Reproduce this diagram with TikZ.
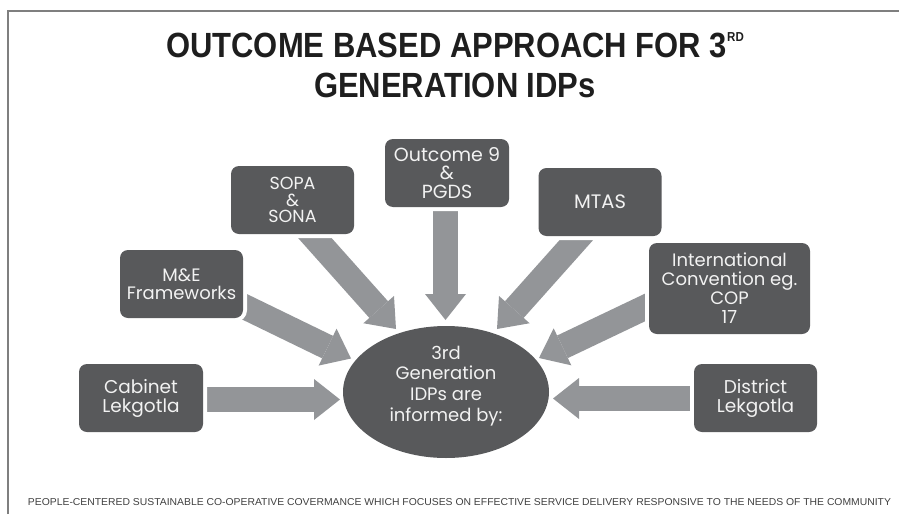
\documentclass[tikz,border=0pt]{standalone}
\usepackage{fontspec}
\usepackage{graphicx}
\setmainfont{Poppins}
\newfontfamily\titlefont{Liberation Sans}
\usetikzlibrary{arrows.meta,shapes.geometric,calc}
\pgfdeclarelayer{background}
\pgfsetlayers{background,main}
\definecolor{boxgray}{HTML}{58595B}
\definecolor{arrowgray}{HTML}{939598}
\definecolor{framegray}{HTML}{7F7F7F}
\definecolor{boxtext}{HTML}{F2F2F2}
\definecolor{titlecol}{HTML}{1E1E1E}
\definecolor{footcol}{HTML}{404040}
\tikzset{
  boxfont/.style 2 args={font=\fontsize{#1}{#2}\selectfont},
  infobox/.style={fill=boxgray, rounded corners=8pt, inner sep=0pt, align=center,
    text=boxtext, minimum width=123pt, minimum height=68pt,
    preaction={draw=white, line width=8pt}},
  hub/.style={ellipse, fill=boxgray, minimum width=206pt, minimum height=132pt, inner sep=0pt},
  hubtext/.style={align=center, text=boxtext, inner sep=0pt, font=\fontsize{18}{20.7}\selectfont},
  fatarrow/.style={draw=arrowgray, line width=25pt,
    -{Triangle[width=41pt,length=26pt,line width=0pt]}},
  frameline/.style={draw=framegray, line width=1.7pt},
  titletext/.style={anchor=base, text=titlecol, inner sep=0pt},
}
\begin{document}
\begin{tikzpicture}[x=1pt,y=-1pt]
\useasboundingbox (0,0) rectangle (899,514);
\draw[frameline] (8.2,514) -- (8.2,10.8) -- (899,10.8);

\node[titletext] (title1) at (455,57) {\titlefont\bfseries\fontsize{35}{40}\selectfont\scalebox{0.885}[1]{OUTCOME BASED APPROACH FOR 3\raisebox{15.5pt}{\fontsize{13}{13}\selectfont RD}}};
\node[titletext] (title2) at (455,97) {\titlefont\bfseries\fontsize{35}{40}\selectfont\scalebox{0.885}[1]{GENERATION IDPs}};

\node[anchor=base, text=footcol, inner sep=0pt] (foot) at (459.5,505) {\resizebox{863pt}{7pt}{\titlefont PEOPLE-CENTERED SUSTAINABLE CO-OPERATIVE COVERMANCE WHICH FOCUSES ON EFFECTIVE SERVICE DELIVERY RESPONSIVE TO THE NEEDS OF THE COMMUNITY}};

\node[infobox, boxfont={17.5}{16.5}] (sopa) at (292.5,200) {SOPA\\\&\\SONA};
\node[infobox, minimum width=124pt, boxfont={19}{18.5}] (outc) at (447,173) {Outcome 9\\\&\\PGDS};
\node[infobox, boxfont={19.5}{20}] (mtas) at (600,202) {MTAS};
\node[infobox, minimum width=161pt, minimum height=91pt, boxfont={18}{19}] (intl) at (729.5,288.5) {International\\Convention eg.\\COP\\17};
\node[infobox, boxfont={18}{18}] (me) at (181.5,284) {M\&E\\Frameworks};
\node[infobox, minimum width=124pt, boxfont={18.5}{19}] (cab) at (141,398) {Cabinet\\Lekgotla};
\node[infobox, boxfont={18.5}{19}] (dist) at (755.5,398) {District\\Lekgotla};
\node[hub] (ell) at (446,392) {};
\node[hubtext] (elltxt) at (446,386) {3rd\\Generation\\IDPs are\\informed by:};

\coordinate (sopaS) at ($(sopa.center)+(12.5,27)$);
\coordinate (sopaT) at ($(ell.center)+(-50,-63)$);
\coordinate (outcS) at ($(outc.center)+(-1.5,27)$);
\coordinate (outcT) at ($(ell.center)+(-0.5,-72)$);
\coordinate (mtasS) at ($(mtas.center)+(-14.5,27.8)$);
\coordinate (mtasT) at ($(ell.center)+(51,-63)$);
\coordinate (intlS) at ($(intl.center)+(-73,13.5)$);
\coordinate (intlT) at ($(ell.center)+(93,-34)$);
\coordinate (meS) at ($(me.center)+(52,17.4)$);
\coordinate (meT) at ($(ell.center)+(-95,-33.5)$);
\coordinate (cabS) at ($(cab.center)+(54,1.5)$);
\coordinate (cabT) at ($(ell.center)+(-106,7.5)$);
\coordinate (distS) at ($(dist.center)+(-55.5,0.5)$);
\coordinate (distT) at ($(ell.center)+(107,6.5)$);

\begin{pgfonlayer}{background}
\draw[fatarrow] (sopaS) -- (sopaT);
\draw[fatarrow] (outcS) -- (outcT);
\draw[fatarrow] (mtasS) -- (mtasT);
\draw[fatarrow] (intlS) -- (intlT);
\draw[fatarrow] (meS) -- (meT);
\draw[fatarrow] (cabS) -- (cabT);
\draw[fatarrow] (distS) -- (distT);
\end{pgfonlayer}
\end{tikzpicture}
\end{document}
